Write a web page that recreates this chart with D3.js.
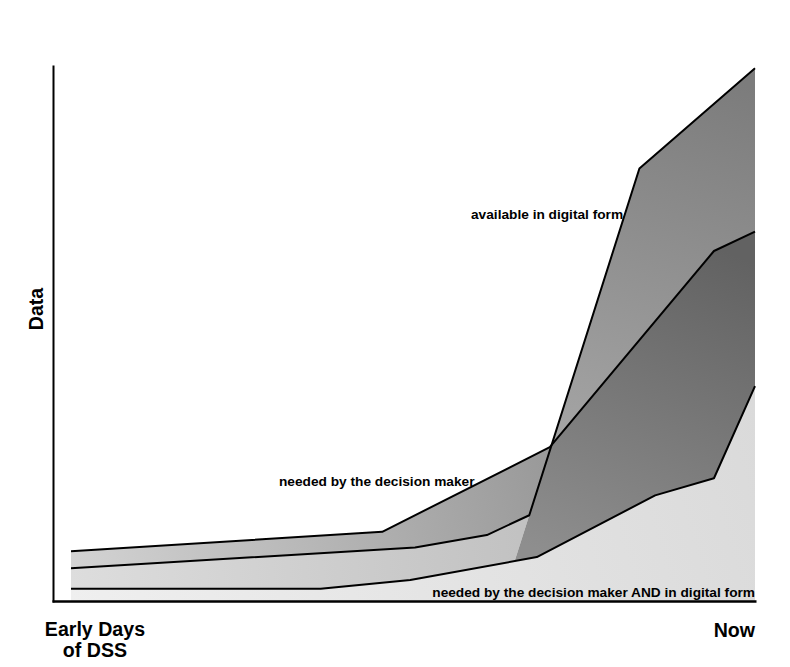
<!DOCTYPE html>
<html>
<head>
<meta charset="utf-8">
<script src="https://cdn.jsdelivr.net/npm/d3@7"></script>
<style>
  html, body { margin: 0; padding: 0; background: #fff; }
  svg { display: block; }
  text { font-family: "Liberation Sans", Arial, Helvetica, sans-serif; font-weight: bold; fill: #000; }
</style>
</head>
<body>
<svg id="chart" width="790" height="667"></svg>
<script>
// ---- data (x = time 0..100, y = amount of data 0..100) ----
const xCategories = ["Early Days|of DSS", "Now"];
const yAxisLabel = "Data";
const seriesNames = ["needed by the decision maker", "available in digital form", "needed by the decision maker AND in digital form"];

const neededX  = [0, 45.5, 70.0, 94.0, 100];
const neededY  = [9.3, 12.9, 28.7, 65.3, 68.9];

const digitalX = [0, 50.3, 60.8, 67.0, 83.1, 100];
const digitalY = [6.1, 10.0, 12.3, 16.0, 80.7, 99.4];

const bothX    = [0, 36.5, 49.6, 68.1, 85.4, 94.0, 100];
const bothY    = [2.3, 2.3, 3.9, 8.2, 19.7, 22.9, 40.1];

// ---- layout ----
const svg = d3.select("#chart");
const x = d3.scaleLinear().domain([0, 100]).range([71, 755]);
const y = d3.scaleLinear().domain([0, 100]).range([601, 65]);

const toPts = (xs, ys) => xs.map((v, i) => [x(v), y(ys[i])]);
const L1 = toPts(neededX, neededY);
const L2 = toPts(digitalX, digitalY);
const L3 = toPts(bothX, bothY);

function lineInter(p1, p2, p3, p4) {
  const d = (p1[0]-p2[0])*(p3[1]-p4[1]) - (p1[1]-p2[1])*(p3[0]-p4[0]);
  if (Math.abs(d) < 1e-9) return null;
  const t = ((p1[0]-p3[0])*(p3[1]-p4[1]) - (p1[1]-p3[1])*(p3[0]-p4[0])) / d;
  const u = -((p1[0]-p2[0])*(p1[1]-p3[1]) - (p1[1]-p2[1])*(p1[0]-p3[0])) / d;
  return {pt: [p1[0] + t*(p2[0]-p1[0]), p1[1] + t*(p2[1]-p1[1])], t, u};
}
// steep segment of the "digital" curve
const sA = L2[3], sB = L2[4];
// crossing C of steep segment with "needed" curve
let C = null;
for (let i = 0; i < L1.length - 1 && !C; i++) {
  const r = lineInter(sA, sB, L1[i], L1[i+1]);
  if (r && r.t >= 0 && r.t <= 1 && r.u >= 0 && r.u <= 1) C = r.pt;
}
// extension E of the steep segment down to the "both" curve
let E = null;
for (let i = 0; i < L3.length - 1 && !E; i++) {
  const r = lineInter(sA, sB, L3[i], L3[i+1]);
  if (r && r.t <= 0 && r.u >= 0 && r.u <= 1) E = r.pt;
}

// ---- gradients ----
const defs = svg.append("defs");
function grad(id, x1, y1, x2, y2, stops) {
  const g = defs.append("linearGradient").attr("id", id)
    .attr("gradientUnits", "userSpaceOnUse")
    .attr("x1", x1).attr("y1", y1).attr("x2", x2).attr("y2", y2);
  stops.forEach(s => g.append("stop").attr("offset", s[0]).attr("stop-color", s[1]));
}
grad("gBottom", 71, 601, 755, 400, [[0, "#efefef"], [1, "#dadada"]]);
grad("gLower", 71, 580, 520, 540, [[0, "#dddddd"], [1, "#c2c2c2"]]);
grad("gDecision", 71, 560, 540, 450, [[0, "#d3d3d3"], [1, "#9a9a9a"]]);
grad("gOverlap", 700, 240, 560, 560, [[0, "#626262"], [1, "#8e8e8e"]]);
grad("gDigital", 700, 70, 580, 440, [[0, "#7c7c7c"], [1, "#a4a4a4"]]);

const poly = d3.line();
const g = svg.append("g");

// lightest area below the "both" curve
g.append("path")
  .attr("d", poly([...L3, [x(100), y(0)], [x(0), y(0)]]) + "Z")
  .attr("fill", "url(#gBottom)");

// lower-left band between "both" and "digital"
const L2left = L2.slice(0, 4);
const L3leftRev = L3.filter(p => p[0] < E[0]).reverse();
g.append("path")
  .attr("d", poly([...L2left, E, ...L3leftRev]) + "Z")
  .attr("fill", "url(#gLower)");

// "needed by decision maker" band left of crossing
const L1left = L1.filter(p => p[0] < C[0]);
g.append("path")
  .attr("d", poly([...L1left, C, sA, ...L2left.slice(0, 3).reverse()]) + "Z")
  .attr("fill", "url(#gDecision)");

// overlap (dark) region
const L1right = L1.filter(p => p[0] > C[0]);
const L3rightRev = L3.filter(p => p[0] > E[0]).reverse();
g.append("path")
  .attr("d", poly([E, C, ...L1right, ...L3rightRev]) + "Z")
  .attr("fill", "url(#gOverlap)");

// digital-only region
g.append("path")
  .attr("d", poly([C, ...L2.slice(4), ...L1right.slice().reverse()]) + "Z")
  .attr("fill", "url(#gDigital)");

// outlines
[L1, L2, L3].forEach(L => {
  g.append("path").attr("d", poly(L))
    .attr("fill", "none").attr("stroke", "#000")
    .attr("stroke-width", 2).attr("stroke-linejoin", "round");
});

// ---- axes ----
const xAxis = d3.axisBottom(d3.scaleLinear().domain([0, 1]).range([52, 756]))
  .tickValues([]).tickSizeOuter(0);
svg.append("g").attr("transform", "translate(0,601)").call(xAxis)
  .select(".domain").attr("stroke", "#000").attr("stroke-width", 2.5);
const yAxis = d3.axisLeft(d3.scaleLinear().domain([0, 1]).range([602, 65]))
  .tickValues([]).tickSizeOuter(0);
svg.append("g").attr("transform", "translate(53,0)").call(yAxis)
  .select(".domain").attr("stroke", "#000").attr("stroke-width", 2);

// category labels
const early = xCategories[0].split("|");
const tEarly = svg.append("text").attr("text-anchor", "middle").attr("font-size", 19.6)
  .attr("x", x(3.5)).attr("y", 636);
tEarly.append("tspan").attr("x", x(3.5)).text(early[0]);
tEarly.append("tspan").attr("x", x(3.5)).attr("dy", 21).text(early[1]);
svg.append("text").attr("text-anchor", "end").attr("font-size", 19.6)
  .attr("x", x(100)).attr("y", 637).text(xCategories[1]);

// y axis label
svg.append("text").attr("text-anchor", "middle").attr("font-size", 19.5)
  .attr("transform", "translate(43,309) rotate(-90)").text(yAxisLabel);

// series labels
svg.append("text").attr("font-size", 13.7).attr("x", 279).attr("y", 486).text(seriesNames[0]);
svg.append("text").attr("font-size", 13.7).attr("x", 471).attr("y", 219).text(seriesNames[1]);
svg.append("text").attr("font-size", 13.7).attr("text-anchor", "end").attr("x", 755).attr("y", 597).text(seriesNames[2]);
</script>
</body>
</html>
